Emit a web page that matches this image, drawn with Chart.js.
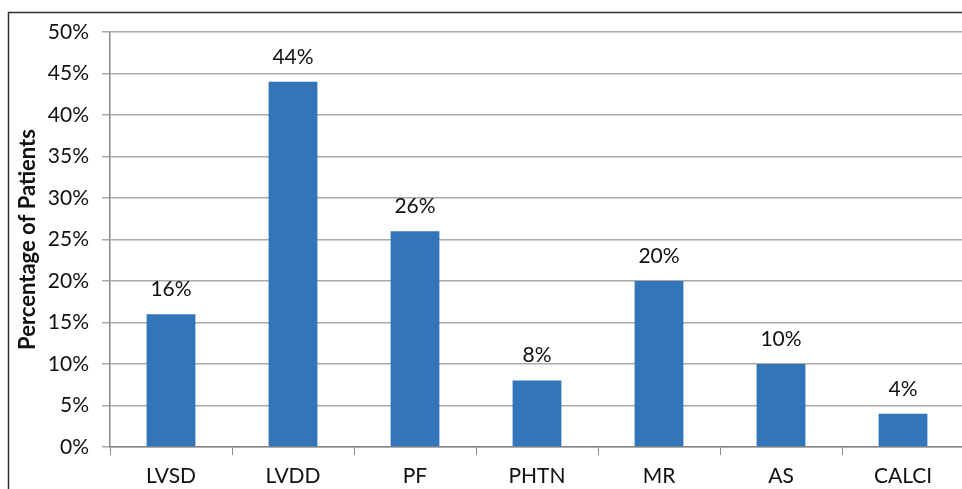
<!DOCTYPE html>
<html>
<head>
<meta charset="utf-8">
<script src="https://cdn.jsdelivr.net/npm/chart.js@4"></script>
<style>
  html, body { margin: 0; padding: 0; background: #fff; overflow: hidden; }
  #wrap { width: 972px; height: 489px; }
</style>
</head>
<body>
<div id="wrap"><canvas id="barChart" width="972" height="489"></canvas></div>
<script>
const categories = ['LVSD', 'LVDD', 'PF', 'PHTN', 'MR', 'AS', 'CALCI'];
const patientPct = [16, 44, 26, 8, 20, 10, 4];
const yTicks = [0, 5, 10, 15, 20, 25, 30, 35, 40, 45, 50];

const fontFamily = 'Lato, "Open Sans", sans-serif';

// outer frame like the original figure box
const framePlugin = {
    id: 'frame',
    beforeDraw(chart) {
        const c = chart.ctx;
        c.save();
        c.fillStyle = '#fff';
        c.fillRect(0, 0, chart.width, chart.height);
        c.strokeStyle = '#333';
        c.lineWidth = 1.5;
        c.strokeRect(8.5, 12.5, 2000, 2000);
        c.restore();
    }
};

// value labels over each bar
const valueLabels = {
    id: 'valueLabels',
    afterDatasetsDraw(chart) {
        const c = chart.ctx;
        const meta = chart.getDatasetMeta(0);
        c.save();
        c.font = '21px ' + fontFamily;
        c.fillStyle = '#111';
        c.textAlign = 'center';
        c.textBaseline = 'middle';
        meta.data.forEach((bar, i) => {
            c.fillText(patientPct[i] + '%', bar.x, bar.y - 25);
        });
        c.restore();
    }
};

const barChart = new Chart(document.getElementById('barChart'), {
    type: 'bar',
    data: {
        labels: categories,
        datasets: [{
            data: patientPct,
            backgroundColor: '#3375b9',
            borderWidth: 0,
            categoryPercentage: 1,
            barPercentage: 0.4,
        }]
    },
    options: {
        responsive: false,
        animation: false,
        layout: { padding: { left: 0, right: 8, top: 32, bottom: 0 } },
        plugins: {
            legend: { display: false },
            tooltip: { enabled: false },
        },
        scales: {
            x: {
                grid: {
                    display: true,
                    drawOnChartArea: false,
                    drawTicks: true,
                    tickLength: 8,
                    color: '#888',
                    offset: true,
                },
                border: { color: '#888', width: 1.5 },
                ticks: {
                    color: '#111',
                    padding: 9,
                    font: { family: fontFamily, size: 21 },
                    maxRotation: 0,
                },
                afterFit(scale) { scale.height = 42; },
            },
            y: {
                min: 0,
                max: 50,
                afterBuildTicks(scale) {
                    scale.ticks = yTicks.map(v => ({ value: v }));
                },
                grid: {
                    color: '#aaa',
                    lineWidth: 1.5,
                    tickLength: 8,
                },
                border: { color: '#888', width: 1.5 },
                ticks: {
                    color: '#111',
                    padding: 13,
                    font: { family: fontFamily, size: 21 },
                    callback: v => v + '%',
                },
                title: {
                    display: true,
                    text: 'Percentage of Patients',
                    color: '#111',
                    font: { family: fontFamily, size: 22, weight: 'bold' },
                    padding: { top: 15, bottom: 0 },
                },
                afterFit(scale) { scale.width = 110; },
            }
        }
    },
    plugins: [framePlugin, valueLabels]
});
</script>
</body>
</html>
